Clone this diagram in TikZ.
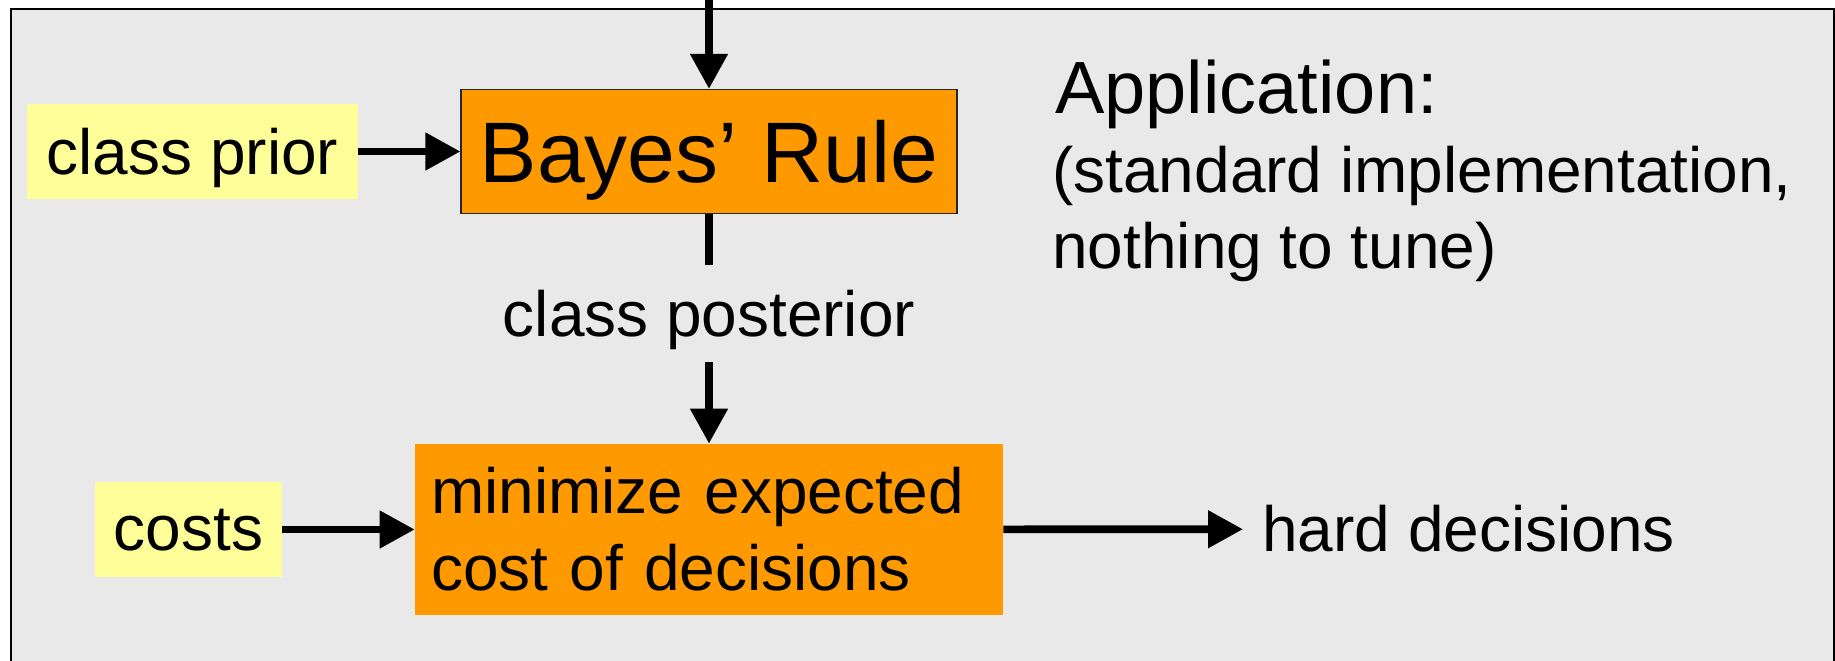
\documentclass[tikz,border=0pt]{standalone}
\usepackage{fontspec}
\setmainfont{Liberation Sans}
\usetikzlibrary{arrows.meta}
\definecolor{panelgray}{RGB}{233,233,233}
\definecolor{boxorange}{RGB}{255,153,0}
\definecolor{boxyellow}{RGB}{255,255,153}

\begin{document}
\begin{tikzpicture}[x=0.02cm,y=-0.02cm,
  txt/.style={font=\fontsize{36.4pt}{43.8pt}\selectfont},
  box/.style={txt,inner sep=0pt},
  flow/.style={line width=0.154cm,-{Triangle[length=0.7cm,width=0.72cm]}}]
\useasboundingbox (0,0) rectangle (1835,661);
\clip (0,0) rectangle (1835,661);
%background panel
\draw[line width=0.04cm,fill=panelgray] (11,9) rectangle (1834,700);

%boxes
\node[box,fill=boxorange,draw=black!85,line width=0.025cm,minimum width=9.92cm,minimum height=2.48cm,text depth=0pt,
  font=\fontsize{48.9pt}{58pt}\selectfont] (bayes) at (709,151.5) {Bayes' Rule};
\node[box,fill=boxyellow,minimum width=6.62cm,minimum height=1.9cm,text depth=0pt] (prior) at (192.5,151.5) {class prior};
\node[box,fill=boxyellow,minimum width=3.74cm,minimum height=1.92cm,text depth=0pt] (costs) at (188.5,529.5) {costs};
\node[box,fill=boxorange,minimum height=3.42cm,inner xsep=0.32cm,text width=11.12cm,align=left] (decide) at (709,529.5)
  {minimize expected\\cost of decisions};

%labels
\node[txt,inner sep=0pt,anchor=base] (post) at (709,336.7) {class posterior};
\node[txt,inner sep=0pt,anchor=base west] (hard) at (1262,552) {hard decisions};
\node[inner sep=0pt,anchor=base west,font=\fontsize{42.1pt}{50pt}\selectfont] (app) at (1055,113.3) {Application:};
\node[txt,inner sep=0pt,anchor=base west,align=left] (note) at (1052,269) {(standard implementation,\\nothing to tune)};

%arrows
\coordinate (src) at (709,0);
\draw[flow] (src) -- (bayes);
\draw[flow] (prior) -- (bayes);
\draw[line width=0.154cm,shorten >=0.5cm] (bayes) -- (post);
\draw[flow,shorten <=0.24cm] (post) -- (decide);
\draw[flow] (costs) -- (decide);
\draw[flow,shorten >=0.38cm] (decide) -- (hard);
\end{tikzpicture}
\end{document}
